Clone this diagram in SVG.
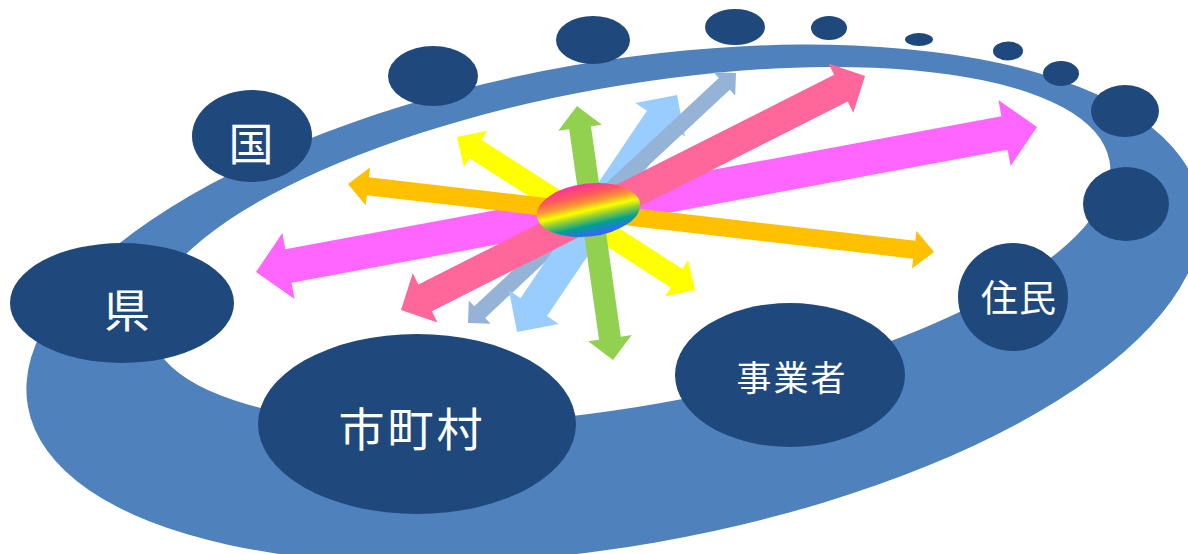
<svg xmlns="http://www.w3.org/2000/svg" width="1188" height="554" viewBox="0 0 1188 554">
<style>
.node{fill:#1F497D}
.lbl{fill:#FFFFFF;font-family:"Noto Sans CJK JP","Noto Sans CJK SC",sans-serif;text-anchor:middle;dominant-baseline:central}
</style>
<defs>
<linearGradient id="rainbow" gradientUnits="userSpaceOnUse" x1="588" y1="184" x2="588" y2="236" gradientTransform="rotate(-6 588 210)">
<stop offset="0" stop-color="#FF3399"/>
<stop offset="0.2" stop-color="#FF5A5A"/>
<stop offset="0.36" stop-color="#FF9933"/>
<stop offset="0.5" stop-color="#FFFF00"/>
<stop offset="0.64" stop-color="#8CCB3A"/>
<stop offset="0.8" stop-color="#00A090"/>
<stop offset="1" stop-color="#3366FF"/>
</linearGradient>
</defs>
<rect width="1188" height="554" fill="#FFFFFF"/>
<g id="ring">
<ellipse cx="614" cy="304" rx="595" ry="242" transform="rotate(-9.9 614 304)" fill="#4F81BD"/>
<ellipse cx="630" cy="246" rx="487" ry="160" transform="rotate(-10.06 630 246)" fill="#FFFFFF"/>
</g>
<g id="node-kuni"><ellipse class="node" cx="252" cy="136" rx="60" ry="46"/><text class="lbl" x="251" y="141" font-size="45">国</text></g>
<g id="node-b1"><ellipse class="node" cx="433" cy="76" rx="45" ry="30"/></g>
<g id="node-b2"><ellipse class="node" cx="593" cy="40" rx="37" ry="24"/></g>
<g id="node-b3"><ellipse class="node" cx="735" cy="27" rx="30" ry="18"/></g>
<g id="node-b4"><ellipse class="node" cx="829" cy="28" rx="18" ry="12"/></g>
<g id="node-b5"><ellipse class="node" cx="919" cy="39.5" rx="14" ry="6.5"/></g>
<g id="node-b6"><ellipse class="node" cx="1008" cy="51" rx="15" ry="9.5"/></g>
<g id="node-b7"><ellipse class="node" cx="1061" cy="73.5" rx="18" ry="12.5"/></g>
<g id="node-b8"><ellipse class="node" cx="1125" cy="111" rx="34" ry="26"/></g>
<g id="node-b9"><ellipse class="node" cx="1126" cy="204" rx="43" ry="37"/></g>
<g id="node-jumin"><ellipse class="node" cx="1013" cy="297" rx="55" ry="54"/><text class="lbl" x="1019" y="296" font-size="37" letter-spacing="1">住民</text></g>
<g id="node-jigyousha"><ellipse class="node" cx="790" cy="375" rx="115" ry="72"/><text class="lbl" x="792" y="375" font-size="35" letter-spacing="2">事業者</text></g>
<g id="node-shichouson"><ellipse class="node" cx="417" cy="424" rx="159" ry="90"/><text class="lbl" x="412" y="426" font-size="46" letter-spacing="3">市町村</text></g>
<g id="node-ken"><ellipse class="node" cx="122" cy="303" rx="112" ry="60"/><text class="lbl" x="127" y="307" font-size="46">県</text></g>
<g id="connectors">
<polygon fill="#FF66FF" transform="translate(256 272) rotate(-10.52)" points="0,0 33,-33.5 33,-17 761.3,-17 761.3,-33.5 794.3,0 761.3,33.5 761.3,17 33,17 33,33.5"/>
<polygon fill="#FFFF00" transform="translate(457 137) rotate(32.74)" points="0,0 22,-21.5 22,-11 261,-11 261,-21.5 283,0 261,21.5 261,11 22,11 22,21.5"/>
<polygon fill="#FFC000" transform="translate(348 184) rotate(6.62)" points="0,0 20,-19 20,-9 570,-9 570,-19 590,0 570,19 570,9 20,9 20,19"/>
<polygon fill="#99CCFF" transform="translate(517 332) rotate(-55.98)" points="130,-16 256,-16 256,-30 286,0 256,30 256,16 130,16"/>
<polygon fill="#95B3D7" transform="translate(468 323) rotate(-43.01)" points="0,0 16,-16 16,-8 350.5,-8 350.5,-16 366.5,0 350.5,16 350.5,8 16,8 16,16"/>
<polygon fill="#99CCFF" transform="translate(517 332) rotate(-55.98)" points="0,0 30,-30 30,-16 150,-16 150,16 30,16 30,30"/>
<polygon fill="#FF6699" transform="translate(401 310) rotate(-26.76)" points="0,0 27,-27.5 27,-15 492.7,-15 492.7,-27.5 519.7,0 492.7,27.5 492.7,15 27,15 27,27.5"/>
<polygon fill="#92D050" transform="translate(577 106) rotate(81.93)" points="0,0 22,-22 22,-11 234.5,-11 234.5,-22 256.5,0 234.5,22 234.5,11 22,11 22,22"/>
</g>
<g id="node-center"><ellipse cx="588.5" cy="210" rx="52" ry="26.5" transform="rotate(-7 588.5 210)" fill="url(#rainbow)"/></g>
</svg>
